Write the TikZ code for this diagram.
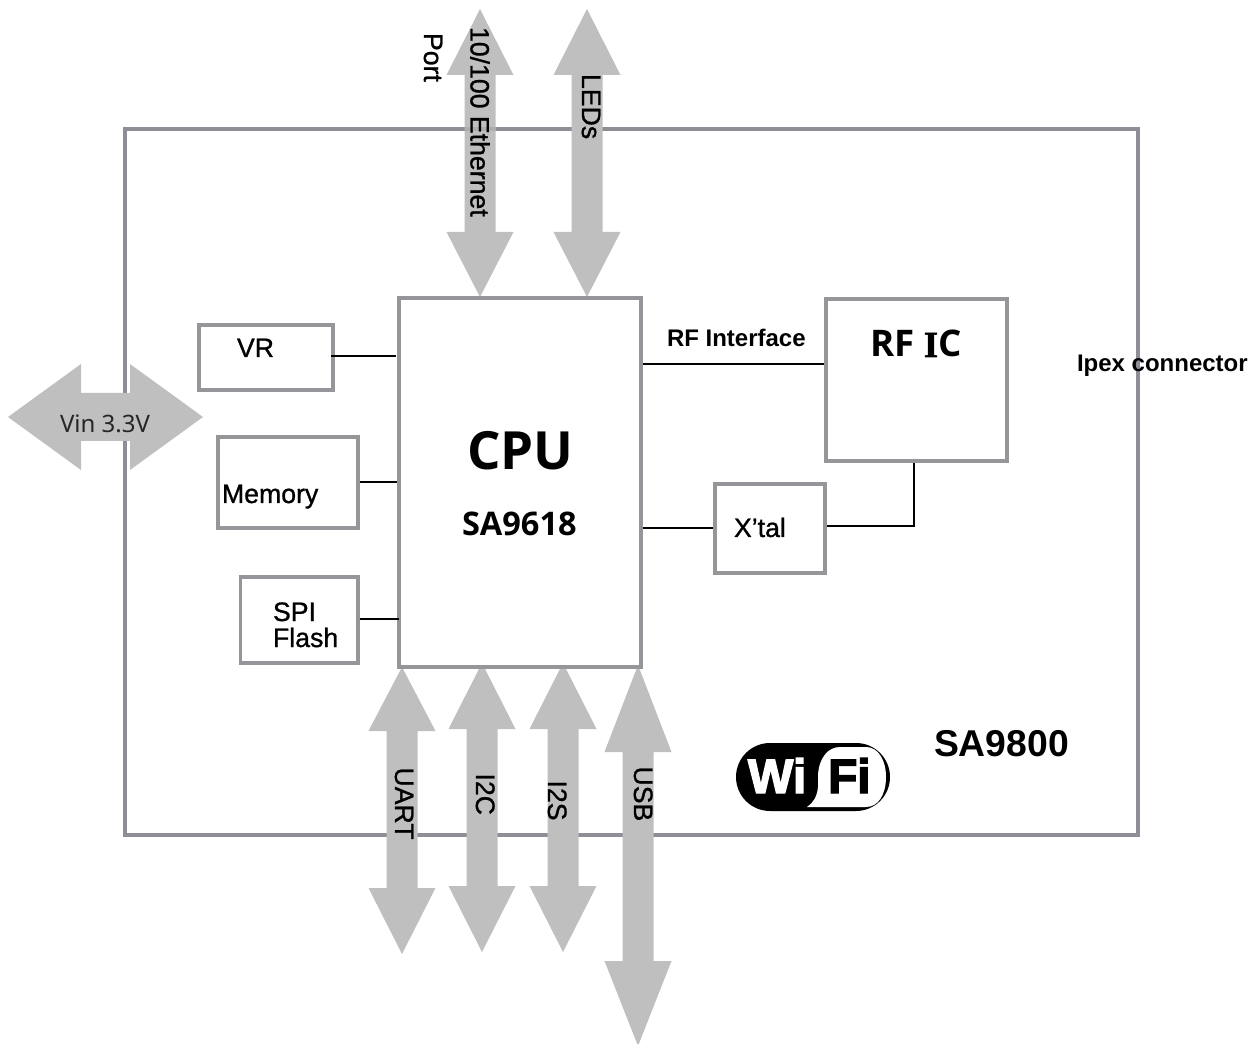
\documentclass[tikz,border=0pt]{standalone}
\usepackage{fontspec}
\setmainfont[FakeBold=1.0,BoldFont={Liberation Sans Bold},BoldFeatures={FakeBold=0}]{Liberation Sans}
\newfontfamily\notob{Open Sans Bold}
\newfontfamily\notor{Noto Sans}
\newfontfamily\serifb[FakeBold=1.5]{Liberation Serif Bold}
\newfontfamily\logob[FakeBold=3]{Liberation Sans Bold}
\usetikzlibrary{fit}
\definecolor{arrowgray}{HTML}{BFBFBF}
\definecolor{framegray}{HTML}{8E8E96}
\definecolor{boxgray}{HTML}{96969A}
\tikzset{
  blockbox/.style={draw=boxgray,line width=2.3pt,fill=white,inner sep=0pt},
  framebox/.style={draw=framegray,line width=2.3pt,inner sep=0pt},
  wire/.style={draw=black,line width=1.4pt},
  busarrow/.style={fill=arrowgray,draw=none},
  lbl/.style={anchor=base west,inner sep=0pt,outer sep=0pt,font=\fontsize{20}{20}\selectfont},
  lblb/.style={lbl,font=\fontsize{18}{18}\selectfont\bfseries},
  vlbl/.style={lbl,rotate=-90},
}
% vertical double arrow: centre x, top tip, top base, bottom base, bottom tip
\newcommand{\busv}[5]{%
  \fill[busarrow] (#1,#2) -- ({#1+33.5},#3) -- ({#1+15.5},#3) -- ({#1+15.5},#4) -- ({#1+33.5},#4)
    -- (#1,#5) -- ({#1-33.5},#4) -- ({#1-15.5},#4) -- ({#1-15.5},#3) -- ({#1-33.5},#3) -- cycle;}
\begin{document}
\begin{tikzpicture}[x=0.75pt,y=-0.75pt]
\useasboundingbox (0,0) rectangle (1260,1044);
\begin{scope}
\clip (0,0) rectangle (1260,1044);
% outer frame
\node[framebox,fit={(125,129)(1138,835)}] (frame) {};
% bus arrows
\busv{480}{9}{75}{232}{297}
\busv{587}{9}{75}{232}{297}
\busv{402}{667}{731}{888}{954}
\busv{482}{663}{729}{886}{952}
\busv{563}{663}{729}{886}{952}
\busv{638}{665}{752}{961}{1046}
\fill[busarrow] (8,417) -- (81,364) -- (81,393) -- (130,393) -- (130,364) -- (203,417)
  -- (130,470) -- (130,441) -- (81,441) -- (81,470) -- cycle;
\end{scope}
\draw[framegray,opacity=.35,line width=2.3pt] (465,129) -- (495,129);
% blocks
\node[blockbox,fit={(399,298)(641,667)}] (cpu) {};
\node[blockbox,fit={(199,325)(333,390)}] (vr) {};
\node[blockbox,fit={(218,437)(358,528)}] (mem) {};
\node[blockbox,fit={(240.5,577)(358,663)}] (spi) {};
\node[blockbox,fit={(826,299)(1007,461)}] (rfic) {};
\node[blockbox,fit={(715,484)(825,573)}] (xtal) {};
% connectors
\draw[wire,shorten <=-3pt,shorten >=1pt] (vr.east |- 0,356) -- (cpu.west |- 0,356);
\draw[wire] (mem.east |- 0,482) -- (cpu.west |- 0,482);
\draw[wire,shorten >=-1.5pt] (spi.east |- 0,619) -- (cpu.west |- 0,619);
\draw[wire] (cpu.east |- 0,364) -- (rfic.west |- 0,364);
\draw[wire] (cpu.east |- 0,528) -- (xtal.west |- 0,528);
\draw[wire] (xtal.east |- 0,526) -- (914,526) -- (rfic.south -| 914,0);
% labels
\node[lbl] (tvr) at (237,357) {VR};
\node[lbl] (tmem) at (222,503) {Memory};
\node[lbl] (tspi) at (273,621) {SPI};
\node[lbl] (tflash) at (273,647) {Flash};
\node[lbl] (txtal) at (734,537) {X’tal};
\node[lblb] (trfif) at (667,347) {RF Interface};
\node[lblb] (tipex) at (1077,372) {Ipex connector};
\node[lbl,font=\fontsize{28}{28}\selectfont\bfseries] (tsa) at (934,756) {SA9800};
\node[lbl,font=\notob\fontsize{39.5}{39.5}\selectfont] (tcpu) at (467,470) {CPU};
\node[lbl,font=\notob\fontsize{24.4}{24.4}\selectfont] (tsoc) at (462,536) {SA9618};
\node[lbl,font=\notob\fontsize{27.5}{27.5}\selectfont] (trf) at (870,357) {RF {\serifb I}C};
\node[lbl,font=\notor\fontsize{18}{18}\selectfont,text=black!85] (tvin) at (60,433) {Vin 3.3V};
\node[vlbl] (teth) at (470.5,27) {10/100 Ethernet};
\node[vlbl] (tport) at (424,33) {Port};
\node[vlbl] (tled) at (582,74) {LEDs};
\node[vlbl] (tuart) at (395,767.5) {UART};
\node[vlbl] (ti2c) at (476,773.5) {I2C};
\node[vlbl] (ti2s) at (548,780.5) {I2S};
\node[vlbl] (tusb) at (634,766.5) {USB};
% Wi-Fi logo
\fill[black,rounded corners=25.5pt] (736,743) rectangle (890,811);
\fill[white] (840,747) -- (866,747) .. controls (878,747) and (886,760) .. (886,777)
  .. controls (886,795) and (878,807) .. (866,807) -- (807,807)
  .. controls (813,803) and (817,797) .. (818,787) -- (818,775)
  .. controls (819,758) and (828,747) .. (840,747) -- cycle;
\node[lbl,font=\logob\fontsize{36}{36}\selectfont,text=white] (twi) at (748,793) {Wi};
\node[lbl,font=\logob\fontsize{36}{36}\selectfont,text=black] (tfi) at (828,793) {Fi};
\end{tikzpicture}
\end{document}
